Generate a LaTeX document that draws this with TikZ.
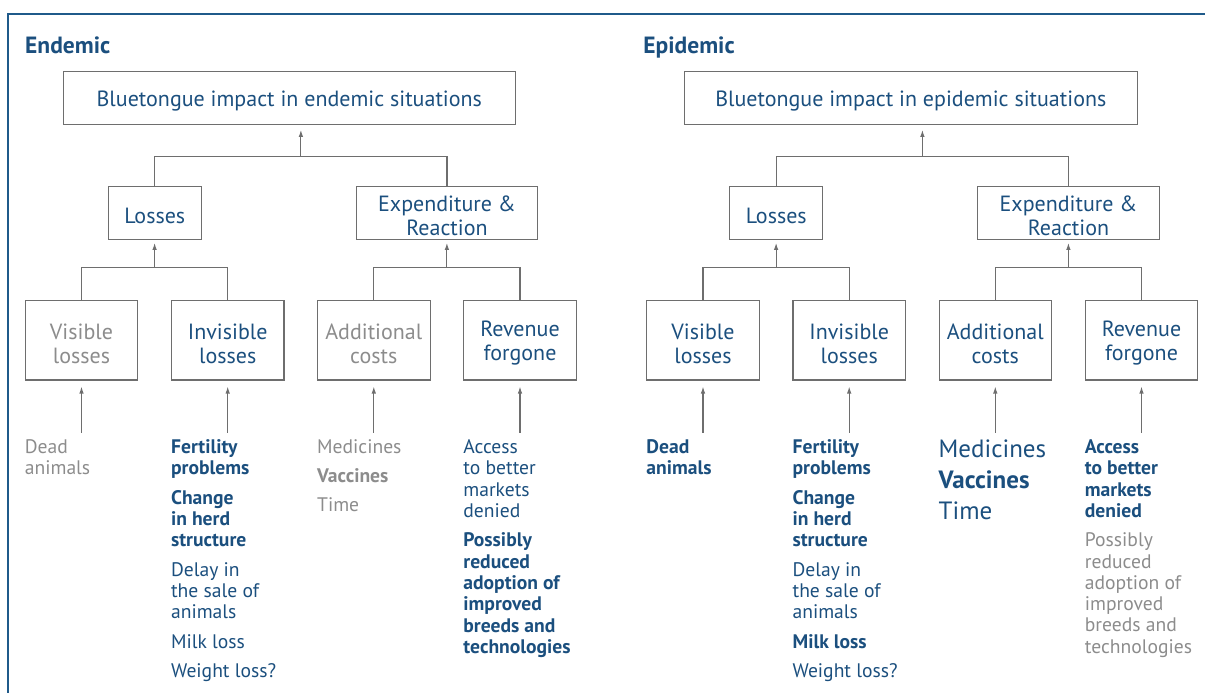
\documentclass[tikz,border=0pt]{standalone}
\usepackage{fontspec}
\setmainfont{PT Sans}
\usetikzlibrary{arrows.meta,calc}

\definecolor{fao}{HTML}{1B4F7E}
\definecolor{faogray}{HTML}{8C8C8C}
\definecolor{boxgray}{HTML}{6E6E6E}
\definecolor{frameblue}{HTML}{1F5A8A}

\newcommand{\boxfont}{\fontsize{22}{24}\selectfont}
\newcommand{\listfont}{\fontsize{19.6}{21.3}\selectfont}
\newcommand{\bigfont}{\fontsize{25}{31}\selectfont}
\newcommand{\G}[1]{\textcolor{faogray}{#1}}

\begin{document}
\begin{tikzpicture}[x=1pt,y=-1pt,
    box/.style={draw=boxgray,line width=1.1pt,text=fao,align=center,inner sep=0pt,font=\boxfont,
        execute at begin node={\rule{0pt}{21pt}}},
    twoline/.style={execute at begin node={\rule{0pt}{46pt}}},
    wide/.style={minimum width=452.5,minimum height=52.6},
    mid/.style={minimum height=52.6},
    leaf/.style={minimum width=112.5,minimum height=79.3,twoline},
    link/.style={draw=boxgray,line width=1.1pt},
    arr/.style={link,-{Latex[length=7pt,width=4.5pt]}},
    list/.style={anchor=north west,align=left,inner sep=0pt,text=fao,font=\listfont},
    title/.style={anchor=base west,inner sep=0pt,text=fao,font=\fontsize{23.5}{26}\selectfont\bfseries}]
    \useasboundingbox (0,0) rectangle (1205,693);
    \clip (0,0) rectangle (1205,693);

    % frame
    \draw[frameblue,line width=2.2pt] (8,720) -- (8,14) -- (1230,14);

    \node[title] (en-title) at (25,53.3) {Endemic};
    \node[title] (ep-title) at (643.2,53.3) {Epidemic};

    % boxes and links of both panels
    \foreach \p/\dx/\sit/\vc in {en/0/endemic/faogray, ep/621.5/epidemic/fao} {
        \begin{scope}[xshift=\dx]
            \node[box,wide] (\p-top) at (289.3,98) {Bluetongue impact in \sit\ situations};
            \node[box,mid,minimum width=93] (\p-loss) at (154.8,213) {Losses};
            \node[box,mid,twoline,minimum width=181.4] (\p-exp) at (447,213) {Expenditure \&\\Reaction};
            \node[box,leaf,text=\vc] (\p-vis) at (81.5,340.3) {Visible\\losses};
            \node[box,leaf] (\p-inv) at (227.7,340.3) {Invisible\\losses};
            \node[box,leaf,text=\vc] (\p-add) at (373.8,340.3) {Additional\\costs};
            \node[box,leaf] (\p-rev) at (520,340.3) {Revenue\\forgone};

            \draw[link] (\p-loss.north) -- ++(0,-30) -| (\p-exp.north);
            \coordinate (\p-j0) at ($(\p-loss.north)!.5!(\p-exp.north)+(0,-30)$);
            \draw[arr,shorten >=5pt] (\p-j0) -- (\p-top.south -| \p-j0);

            \draw[link] (\p-vis.north) -- ++(0,-32.4) -| (\p-inv.north);
            \coordinate (\p-j1) at ($(\p-vis.north)!.5!(\p-inv.north)+(0,-32.4)$);
            \draw[arr,shorten >=3pt] (\p-j1) -- (\p-loss.south -| \p-j1);

            \draw[link] (\p-add.north) -- ++(0,-32.4) -| (\p-rev.north);
            \coordinate (\p-j2) at ($(\p-add.north)!.5!(\p-rev.north)+(0,-32.4)$);
            \draw[arr,shorten >=3pt] (\p-j2) -- (\p-exp.south -| \p-j2);

            \foreach \b in {vis,inv,add,rev} {
                \coordinate (\p-\b-in) at ($(\p-\b.south)+(0,52.4)$);
                \draw[arr,shorten >=6pt] (\p-\b-in) -- (\p-\b.south);
            }
        \end{scope}
    }

    % endemic lists
    \node[list,text=faogray] (en-vis-txt) at (en-vis.west |- 0,439.5) {Dead\\animals};
    \node[list] (en-inv-txt) at (en-inv.west |- 0,439.5)
        {\textbf{Fertility}\\\textbf{problems}\\[8pt]\textbf{Change}\\\textbf{in herd}\\\textbf{structure}\\[8pt]
         Delay in\\the sale of\\animals\\[8pt]Milk loss\\[8pt]Weight loss?};
    \node[list,text=faogray] (en-add-txt) at (en-add.west |- 0,439.5)
        {Medicines\\[7.5pt]\textbf{Vaccines}\\[7.5pt]Time};
    \node[list] (en-rev-txt) at (en-rev.west |- 0,439.5)
        {Access\\to better\\markets\\denied\\[8pt]\textbf{Possibly}\\\textbf{reduced}\\\textbf{adoption of}\\
         \textbf{improved}\\\textbf{breeds and}\\\textbf{technologies}};

    % epidemic lists
    \node[list] (ep-vis-txt) at (ep-vis.west |- 0,439.5) {\textbf{Dead}\\\textbf{animals}};
    \node[list] (ep-inv-txt) at (ep-inv.west |- 0,439.5)
        {\textbf{Fertility}\\\textbf{problems}\\[8pt]\textbf{Change}\\\textbf{in herd}\\\textbf{structure}\\[8pt]
         Delay in\\the sale of\\animals\\[8pt]\textbf{Milk loss}\\[8pt]Weight loss?};
    \node[list,font=\bigfont] (ep-add-txt) at (ep-add.west |- 0,439.5)
        {Medicines\\\textbf{Vaccines}\\Time};
    \node[list] (ep-rev-txt) at (ep-rev.west |- 0,439.5)
        {\textbf{Access}\\\textbf{to better}\\\textbf{markets}\\\textbf{denied}\\[8pt]\G{Possibly}\\\G{reduced}\\\G{adoption of}\\
         \G{improved}\\\G{breeds and}\\\G{technologies}};
\end{tikzpicture}
\end{document}
